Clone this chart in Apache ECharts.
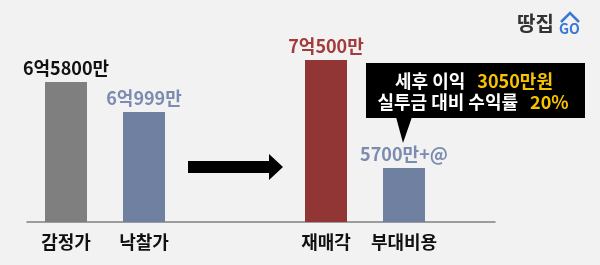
<!DOCTYPE html>
<html><head><meta charset="utf-8">
<script src="https://cdn.jsdelivr.net/npm/echarts@6/dist/echarts.min.js"></script>
<style>html,body{margin:0;padding:0;background:#f2f2f2}#c{width:600px;height:265px}</style>
</head><body><div id="c"></div>
<script>
const categories = ['감정가', '낙찰가', '재매각', '부대비용'];
const slotIndex = [1, 4, 11, 14];           // slot of each category on an 18-slot axis
const slotCount = 18;
const values = [140, 110, 162, 54];         // bar heights as drawn (illustrative scale)
const valueLabels = ['6억5800만', '6억999만', '7억500만', '5700만+@'];
const barColors = ['#7f7f7f', '#7080a0', '#923535', '#7080a0'];
const labelColors = ['#111111', '#7b8cb0', '#a23c3c', '#7b8cb0'];
const calloutLine1 = ['세후 이익', '3050만원'];
const calloutLine2 = ['실투금 대비 수익률', '20%'];

const FONT = '"Noto Sans CJK KR", "Noto Sans", sans-serif';
const axisData = [];
const seriesData = [];
for (let i = 0; i < slotCount; i++) { axisData.push(''); seriesData.push('-'); }
slotIndex.forEach((s, k) => {
  axisData[s] = categories[k];
  seriesData[s] = {
    value: values[k],
    itemStyle: { color: barColors[k] },
    label: { color: labelColors[k], formatter: valueLabels[k] }
  };
});

const rich = {
  w: { fill: '#fff', fontFamily: FONT, fontWeight: 'bold', fontSize: 18 },
  y: { fill: '#f7c200', fontFamily: FONT, fontWeight: 'bold', fontSize: 18 },
  g: { width: 12 }
};

const chart = echarts.init(document.getElementById('c'));
chart.setOption({
  backgroundColor: '#f2f2f2',
  animation: false,
  grid: { left: 27, width: 468, bottom: 43, top: 22 },
  xAxis: {
    type: 'category', data: axisData,
    axisTick: { show: false },
    axisLine: { lineStyle: { color: '#808080', width: 1.5 } },
    axisLabel: { interval: 0, margin: 11, color: '#111', fontFamily: FONT, fontWeight: 'bold', fontSize: 18 }
  },
  yAxis: { type: 'value', min: 0, max: 200, show: false, splitLine: { show: false } },
  series: [{
    type: 'bar', data: seriesData, barWidth: 42,
    label: { show: true, position: 'top', distance: 5, fontFamily: FONT, fontWeight: 'bold', fontSize: 18 }
  }],
  graphic: [
    // arrow
    { type: 'polygon', shape: { points: [[188,161],[269,161],[269,154],[283,167],[269,180],[269,173],[188,173]] }, style: { fill: '#000' } },
    // callout box
    { type: 'rect', shape: { x: 366, y: 63, width: 219, height: 55 }, style: { fill: '#000' } },
    { type: 'polygon', shape: { points: [[396,117],[412,117],[403,143]] }, style: { fill: '#000' } },
    { type: 'text', x: 474, y: 81, style: {
        text: '{w|' + calloutLine1[0] + '}{g|}{y|' + calloutLine1[1] + '}',
        align: 'center', verticalAlign: 'middle', rich: rich
    } },
    { type: 'text', x: 473, y: 102, style: {
        text: '{w|' + calloutLine2[0] + '}{g|}{y|' + calloutLine2[1] + '}',
        align: 'center', verticalAlign: 'middle', rich: rich
    } },
    // logo
    { type: 'text', x: 517, y: 23, style: { text: '땅집', fill: '#333', fontFamily: FONT, fontWeight: 'bold', fontSize: 20, verticalAlign: 'middle' } },
    { type: 'text', x: 559, y: 28.5, style: { text: 'GO', fill: '#3a78d6', fontFamily: FONT, fontWeight: 'bold', fontSize: 14, verticalAlign: 'middle' } },
    { type: 'polyline', shape: { points: [[561,22],[570,13],[579,22]] }, style: { stroke: '#3a78d6', lineWidth: 2.5, fill: null } }
  ]
});
</script></body></html>
